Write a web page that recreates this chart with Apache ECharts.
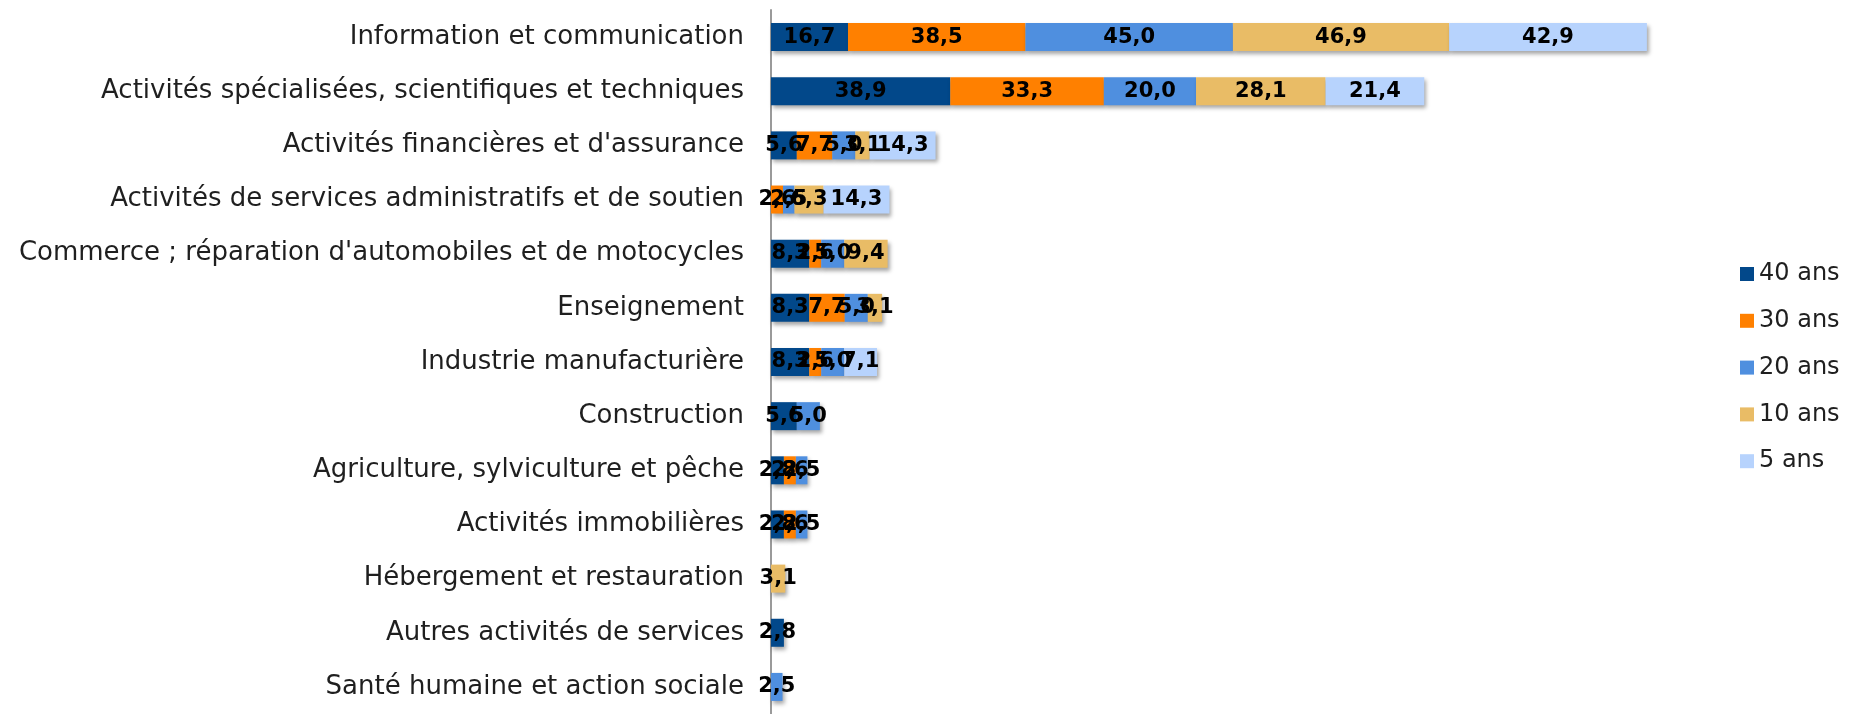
<!DOCTYPE html>
<html>
<head>
<meta charset="utf-8">
<script src="https://cdn.jsdelivr.net/npm/echarts@6/dist/echarts.min.js"></script>
<style>
  html, body { margin: 0; padding: 0; background: #ffffff; }
  #chart { width: 1861px; height: 714px; }
</style>
</head>
<body>
<div id="chart"></div>
<script>
// Secteurs d'activité (du haut vers le bas)
const categories = [
  "Information et communication",
  "Activités spécialisées, scientifiques et techniques",
  "Activités financières et d'assurance",
  "Activités de services administratifs et de soutien",
  "Commerce ; réparation d'automobiles et de motocycles",
  "Enseignement",
  "Industrie manufacturière",
  "Construction",
  "Agriculture, sylviculture et pêche",
  "Activités immobilières",
  "Hébergement et restauration",
  "Autres activités de services",
  "Santé humaine et action sociale"
];

// Parts (%) par ancienneté, une valeur par secteur
const ans40 = [16.7, 38.9, 5.6, 0, 8.3, 8.3, 8.3, 5.6, 2.8, 2.8, 0, 2.8, 0];
const ans30 = [38.5, 33.3, 7.7, 2.6, 2.6, 7.7, 2.6, 0, 2.6, 2.6, 0, 0, 0];
const ans20 = [45.0, 20.0, 5.0, 2.5, 5.0, 5.0, 5.0, 5.0, 2.5, 2.5, 0, 0, 2.5];
const ans10 = [46.9, 28.1, 3.1, 6.3, 9.4, 3.1, 0, 0, 0, 0, 3.1, 0, 0];
const ans5  = [42.9, 21.4, 14.3, 14.3, 0, 0, 7.1, 0, 0, 0, 0, 0, 0];

const seriesNames = ["40 ans", "30 ans", "20 ans", "10 ans", "5 ans"];
const seriesData = [ans40, ans30, ans20, ans10, ans5];
const colors = ["#02488a", "#ff8000", "#4f8fdf", "#e9bc66", "#b7d3fd"];

const FONT = "'DejaVu Sans', sans-serif";

const chart = echarts.init(document.getElementById("chart"), null, { renderer: "canvas" });

const series = seriesNames.map((name, i) => ({
  name: name,
  type: "bar",
  stack: "total",
  barWidth: 28,
  data: seriesData[i].map(v => (v === 0 ? "-" : v)),
  itemStyle: {
    color: colors[i],
    shadowColor: "rgba(0,0,0,0.35)",
    shadowBlur: 4,
    shadowOffsetX: 2,
    shadowOffsetY: 3
  },
  label: {
    show: true,
    position: "inside",
    color: "#000000",
    fontFamily: FONT,
    fontWeight: "bold",
    fontSize: 21,
    formatter: p => (typeof p.value === "number" ? p.value.toFixed(1).replace(".", ",") : "")
  },
  emphasis: { disabled: true }
}));

chart.setOption({
  animation: false,
  backgroundColor: "#ffffff",
  textStyle: { fontFamily: FONT },
  grid: { left: 771, top: 10, width: 922, height: 707, containLabel: false },
  xAxis: {
    type: "value",
    min: 0,
    max: 200,
    show: false,
    splitLine: { show: false }
  },
  yAxis: {
    type: "category",
    inverse: true,
    data: categories,
    axisLine: { show: true, lineStyle: { color: "#9a9a9a", width: 2 } },
    axisTick: { show: false },
    axisLabel: {
      margin: 27,
      color: "#1f1f1f",
      fontFamily: FONT,
      fontSize: 26
    }
  },
  legend: {
    orient: "vertical",
    left: 1735,
    top: 257,
    icon: "rect",
    itemWidth: 14,
    itemHeight: 14,
    itemGap: 22.8,
    textStyle: { fontFamily: FONT, fontSize: 24, lineHeight: 24, color: "#1f1f1f" },
    data: seriesNames
  },
  series: series
});
</script>
</body>
</html>
